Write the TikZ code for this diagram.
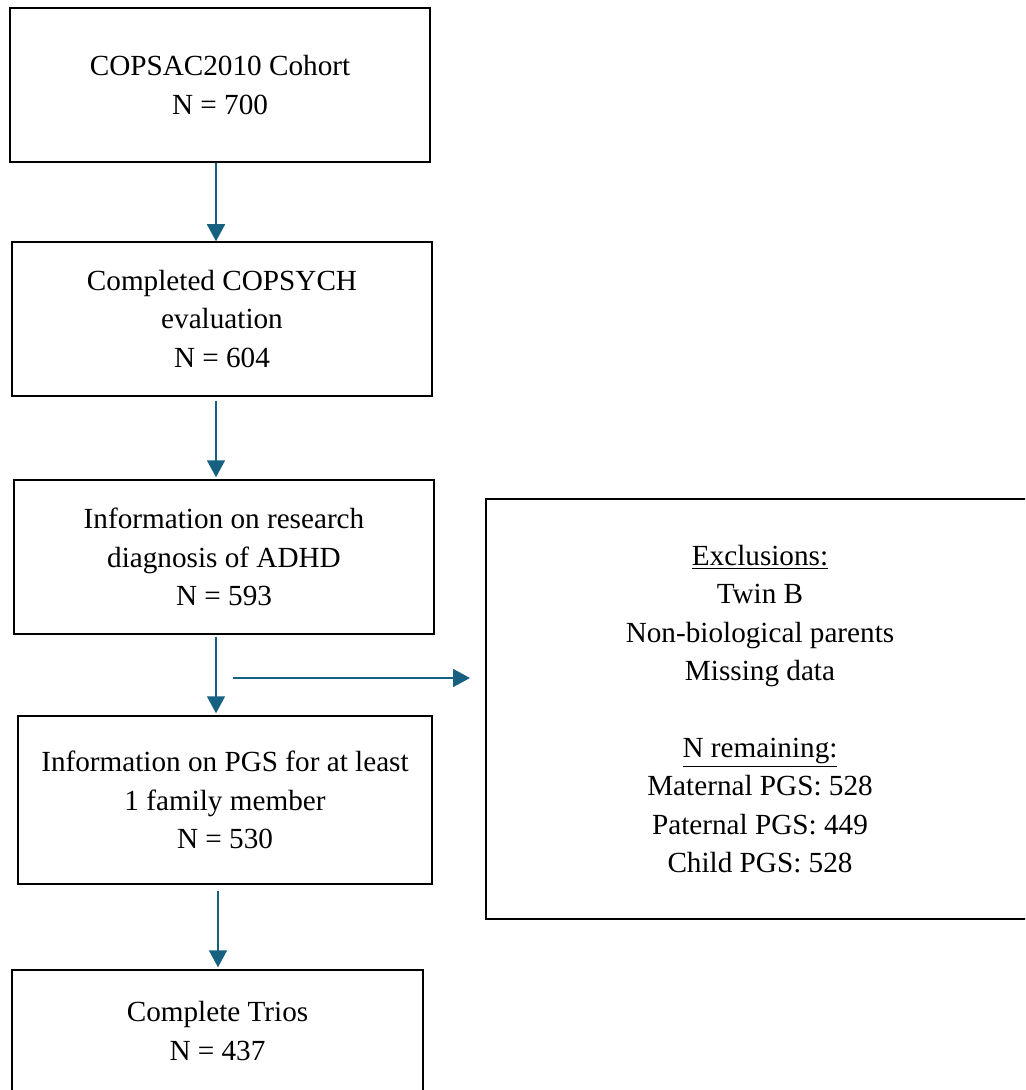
\documentclass[tikz,border=0pt]{standalone}
\usepackage{fontspec}
\setmainfont{Liberation Serif}
\usetikzlibrary{arrows.meta}
\definecolor{arrowblue}{RGB}{22,96,130}
\begin{document}
\begin{tikzpicture}[x=0.5pt,y=-0.5pt,
  box/.style={draw=black,line width=0.75pt,inner sep=0pt,align=center,
    font=\fontsize{14.6pt}{19.2pt}\selectfont},
  flow/.style={draw=arrowblue,line width=0.9pt,-{Triangle[width=9pt,length=8.5pt]}}]
\clip (0,0) rectangle (1025,1090);
\node[box,minimum width=210pt,minimum height=77pt] (b1) at (220,85) {COPSAC2010 Cohort\\N = 700};
\node[box,minimum width=210pt,minimum height=77pt] (b2) at (222,319) {Completed COPSYCH\\evaluation\\N = 604};
\node[box,minimum width=210pt,minimum height=77pt] (b3) at (224,557) {Information on research\\diagnosis of ADHD\\N = 593};
\node[box,minimum width=207pt,minimum height=84pt] (b4) at (225,800) {Information on PGS for at least\\1 family member\\N = 530};
\node[box,minimum width=205.5pt,minimum height=61pt] (b5) at (217.5,1031) {Complete Trios\\N = 437};
\node[box,minimum width=274pt,minimum height=210pt] (ex) at (760,709) {\underline{Exclusions:}\\Twin B\\Non-biological parents\\Missing data\\[19.2pt]\underline{N remaining:}\\Maternal PGS: 528\\Paternal PGS: 449\\Child PGS: 528};
\coordinate (hs) at (233,678);
\coordinate (he) at (470,678);
\draw[flow] (b1.south -| 216,0) -- (b2.north -| 216,0);
\draw[flow] ([yshift=-2pt]b2.south -| 216,0) -- ([yshift=1pt]b3.north -| 216,0);
\draw[flow] ([yshift=-1pt]b3.south -| 216,0) -- ([yshift=1pt]b4.north -| 216,0);
\draw[flow] (hs) -- (he);
\draw[flow] ([yshift=-3pt]b4.south -| 218,0) -- ([yshift=1pt]b5.north -| 218,0);
\end{tikzpicture}
\end{document}
